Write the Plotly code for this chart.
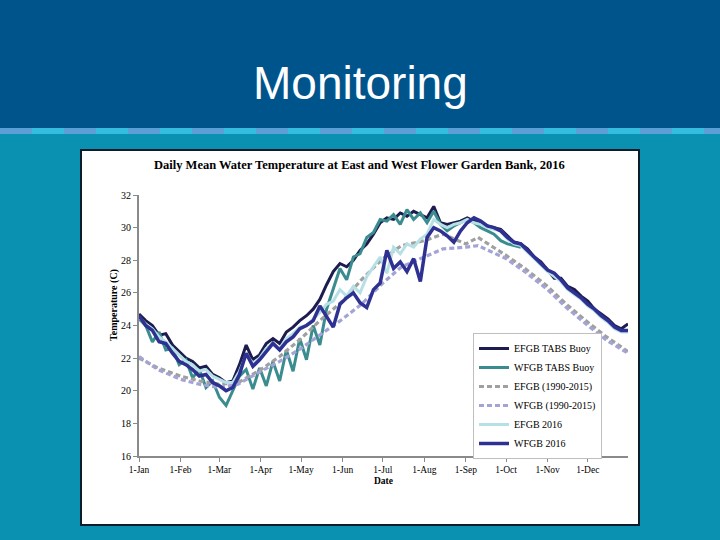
import plotly.graph_objects as go
import pandas as pd

# ---------------- data ----------------
sample_days = list(range(0, 366, 5))  # day offsets from 1-Jan-2016

efgb_tabs = [24.7, 24.3, 24.0, 23.4, 23.5, 22.8, 22.4, 22.0, 21.8, 21.4, 21.5, 21.0, 20.8, 20.5, 20.6,
             21.6, 22.8, 21.9, 22.2, 22.9, 23.2, 22.9, 23.6, 23.9, 24.3, 24.6, 25.0, 25.6, 26.5, 27.3,
             27.8, 27.6, 28.0, 28.6, 29.0, 29.6, 30.3, 30.6, 30.5, 30.9, 30.7, 31.0, 30.8, 30.6, 31.3,
             30.3, 30.2, 30.3, 30.4, 30.6, 30.4, 30.3, 30.1, 30.0, 29.9, 29.5, 29.1, 29.0, 28.7, 28.2,
             27.9, 27.4, 26.9, 26.9, 26.4, 26.2, 25.8, 25.5, 25.0, 24.7, 24.4, 24.0, 23.8, 24.1]

wfgb_tabs = [24.4, 24.0, 23.0, 23.6, 22.5, 22.6, 21.6, 21.9, 20.8, 21.3, 20.2, 20.6, 19.6, 19.1, 20.0,
             20.9, 21.3, 20.1, 21.4, 20.3, 21.8, 20.6, 22.5, 21.2, 23.2, 21.9, 24.0, 22.8, 25.0, 26.3,
             27.5, 26.8, 28.2, 28.4, 29.4, 29.7, 30.5, 30.4, 30.8, 30.2, 31.1, 30.5, 30.9, 30.3, 31.0,
             30.2, 29.8, 30.1, 30.3, 30.5, 30.3, 30.0, 29.8, 29.6, 29.2, 29.0, 28.9, 28.8] + [None] * 16

efgb_2016 = [24.5, 24.1, 23.8, 23.3, 23.0, 22.6, 22.2, 21.8, 21.6, 21.2, 21.3, 20.9, 20.7, 20.5, 20.5,
             21.2, 22.2, 21.7, 22.0, 22.6, 22.9, 22.6, 23.2, 23.5, 23.9, 24.0, 24.4, 24.8, 25.3, 25.5,
             26.2, 25.8, 26.4, 26.0, 27.0, 27.6, 28.2, 27.2, 28.8, 28.4, 29.0, 28.8, 29.3, 29.6, 30.5,
             30.2, 30.0, 30.2, 30.3, 30.5, 30.3, 30.2, 30.0, 29.9, 29.8, 29.3, 29.0, 28.9, 28.5, 28.1,
             27.7, 27.3, 27.0, 26.7, 26.2, 25.9, 25.6, 25.2, 24.9, 24.5, 24.2, 23.8, 23.6, 23.6]

wfgb_2016 = [24.6, 24.0, 23.7, 23.0, 22.9, 22.3, 21.8, 21.6, 21.3, 20.9, 21.0, 20.5, 20.3, 20.0, 20.2,
             21.0, 22.3, 21.5, 21.9, 22.4, 22.9, 22.5, 23.0, 23.3, 23.8, 24.0, 24.3, 25.2, 24.5, 23.9,
             25.3, 25.7, 26.0, 25.4, 25.1, 26.2, 26.6, 28.6, 27.5, 27.9, 27.3, 28.1, 26.7, 29.4, 30.0,
             29.8, 29.5, 29.1, 29.8, 30.3, 30.6, 30.4, 30.1, 30.0, 29.8, 29.4, 29.1, 29.0, 28.6, 28.2,
             27.8, 27.4, 27.2, 26.8, 26.3, 26.0, 25.7, 25.3, 25.0, 24.6, 24.3, 23.9, 23.7, 23.7]

clim_days = [0, 14, 31, 45, 60, 74, 91, 105, 121, 135, 152, 166, 182, 196, 213, 227, 244, 253,
             274, 288, 305, 319, 335, 349, 365]
efgb_clim = [22.0, 21.4, 20.9, 20.6, 20.4, 20.5, 21.3, 22.1, 23.2, 24.3, 25.5, 26.8, 28.1, 28.9,
             29.2, 29.6, 29.0, 29.4, 28.3, 27.5, 26.4, 25.3, 24.2, 23.3, 22.4]
wfgb_clim = [22.1, 21.3, 20.7, 20.4, 20.2, 20.4, 21.2, 21.8, 22.6, 23.4, 24.4, 25.3, 26.6, 27.6,
             28.2, 28.7, 28.8, 28.9, 28.1, 27.3, 26.2, 25.1, 24.0, 23.1, 22.3]

month_ticks = ["2016-%02d-01" % m for m in range(1, 13)]
month_labels = ["1-Jan", "1-Feb", "1-Mar", "1-Apr", "1-May", "1-Jun", "1-Jul", "1-Aug",
                "1-Sep", "1-Oct", "1-Nov", "1-Dec"]

series_names = ["EFGB TABS Buoy", "WFGB TABS Buoy", "EFGB (1990-2015)", "WFGB (1990-2015)",
                "EFGB 2016", "WFGB 2016"]

# ---------------- figure ----------------
start = pd.Timestamp("2016-01-01")
d5 = [start + pd.Timedelta(days=d) for d in sample_days]
dc = [start + pd.Timedelta(days=d) for d in clim_days]

SERIF = "Liberation Serif, Times New Roman, serif"

fig = go.Figure()
fig.add_trace(go.Scatter(x=d5, y=efgb_tabs, mode="lines", name=series_names[0],
                         line=dict(color="#1c1c4e", width=3)))
fig.add_trace(go.Scatter(x=d5, y=wfgb_tabs, mode="lines", name=series_names[1],
                         line=dict(color="#3a8c8f", width=3)))
fig.add_trace(go.Scatter(x=dc, y=efgb_clim, mode="lines", name=series_names[2],
                         line=dict(color="#a0a0a0", width=3.2, dash="5px,3px")))
fig.add_trace(go.Scatter(x=dc, y=wfgb_clim, mode="lines", name=series_names[3],
                         line=dict(color="#a3a3d6", width=3.2, dash="5px,3px")))
fig.add_trace(go.Scatter(x=d5, y=efgb_2016, mode="lines", name=series_names[4],
                         line=dict(color="#b7e0e6", width=3)))
fig.add_trace(go.Scatter(x=d5, y=wfgb_2016, mode="lines", name=series_names[5],
                         line=dict(color="#2e3192", width=3.5)))

# plot area in pixels
PX0, PX1, PY0, PY1 = 139, 628, 195, 456


def px(x):
    return (x - PX0) / (PX1 - PX0)


def py(y):
    return (PY1 - y) / (PY1 - PY0)


shapes = [
    dict(type="rect", xref="paper", yref="paper", x0=px(0), x1=px(720), y0=py(0), y1=py(128),
         fillcolor="#00548c", line=dict(width=0), layer="below"),
    dict(type="rect", xref="paper", yref="paper", x0=px(81), x1=px(639), y0=py(150), y1=py(525),
         fillcolor="white", line=dict(color="#0d1b2a", width=2), layer="below"),
]
stripe_cols = ["#5b9fd6", "#35bde0"]
for i, xs in enumerate(range(0, 720, 32)):
    shapes.append(dict(type="rect", xref="paper", yref="paper", x0=px(xs), x1=px(min(xs + 32, 720)),
                       y0=py(128), y1=py(134), fillcolor=stripe_cols[i % 2], line=dict(width=0),
                       layer="below"))

annotations = [
    dict(text="Monitoring", xref="paper", yref="paper", x=px(360), y=py(83), showarrow=False,
         xanchor="center", yanchor="middle",
         font=dict(family="Liberation Sans, Arial, sans-serif", size=46, color="white")),
    dict(text="<b>Daily Mean Water Temperature at East and West Flower Garden Bank, 2016</b>",
         xref="paper", yref="paper", x=px(359), y=py(165), showarrow=False,
         xanchor="center", yanchor="middle", font=dict(family=SERIF, size=12.5, color="black")),
    dict(text="<b>Temperature (C)</b>", xref="paper", yref="paper", x=px(114), y=py(305),
         showarrow=False, textangle=-90, xanchor="center", yanchor="middle",
         font=dict(family=SERIF, size=10, color="black")),
    dict(text="<b>Date</b>", xref="paper", yref="paper", x=px(383), y=py(481), showarrow=False,
         xanchor="center", yanchor="middle", font=dict(family=SERIF, size=9.5, color="black")),
]

fig.update_layout(
    width=720, height=540, autosize=False,
    margin=dict(l=PX0, r=720 - PX1, t=PY0, b=540 - PY1, pad=0),
    paper_bgcolor="#0a90b0", plot_bgcolor="white",
    shapes=shapes, annotations=annotations,
    showlegend=True,
    legend=dict(x=px(473), y=py(333), xanchor="left", yanchor="top", bgcolor="white",
                bordercolor="#bfbfbf", borderwidth=1, itemwidth=30, tracegroupgap=0,
                font=dict(family=SERIF, size=10, color="black")),
    font=dict(family=SERIF, size=10, color="black"),
)
fig.update_xaxes(type="date", range=["2016-01-01", "2016-12-31"], tickmode="array",
                 tickvals=month_ticks, ticktext=month_labels, showgrid=False, zeroline=False,
                 showline=True, linecolor="#8a8a8a", linewidth=2, ticks="outside", ticklen=4,
                 tickcolor="#8a8a8a", tickfont=dict(family=SERIF, size=9.5, color="black"))
fig.update_yaxes(range=[16, 32], dtick=2, tick0=16, showgrid=False, zeroline=False,
                 showline=True, linecolor="#8a8a8a", linewidth=2, ticks="outside", ticklen=4,
                 tickcolor="#8a8a8a", tickfont=dict(family=SERIF, size=10, color="black"))

fig.write_html("out.html", config={"displayModeBar": False},
               post_script="document.body.style.margin='0';document.body.style.overflow='hidden';")
